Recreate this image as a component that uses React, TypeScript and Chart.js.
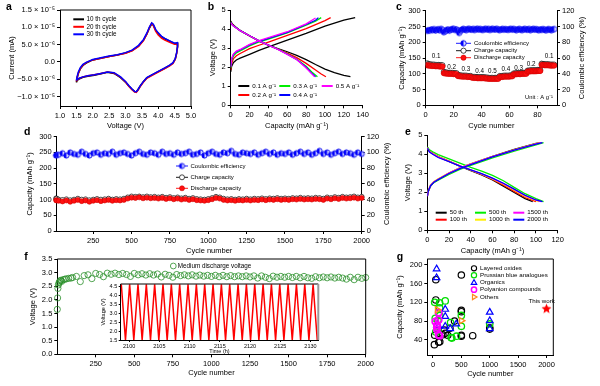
import React, { useEffect, useRef } from "react";
import { Chart, registerables } from "chart.js";
Chart.register(...registerables);

const FONT = '"Liberation Sans", Arial, Helvetica, sans-serif';
const PW = 600;
const PH = 386;

// ---------------- panel a : cyclic voltammetry ----------------
const cvVoltage = [1.50, 1.52, 1.56, 1.62, 1.70, 1.80, 2.00, 2.25, 2.50, 2.75, 3.00, 3.20, 3.40, 3.55, 3.65, 3.73, 3.80, 3.85, 3.92, 4.00, 4.10, 4.20, 4.35, 4.50, 4.58, 4.60,
  4.58, 4.56, 4.52, 4.45, 4.35, 4.20, 4.00, 3.80, 3.65, 3.55, 3.45, 3.38, 3.33, 3.28, 3.20, 3.10, 3.00, 2.85, 2.65, 2.45, 2.25, 2.05, 1.85, 1.70, 1.58, 1.52, 1.50];
// current in units of 10^-6 mA
const cv10th = [-5.9, -4.8, -3.3, -2.0, -1.0, -0.3, 0.6, 1.1, 1.6, 2.0, 2.6, 3.3, 4.6, 6.3, 8.0, 9.8, 11.0, 10.6, 9.2, 8.2, 7.3, 6.7, 6.0, 5.3, 5.4, 5.6,
  4.5, 2.5, 0.9, -0.3, -1.0, -1.8, -2.8, -3.8, -4.6, -5.6, -6.9, -8.0, -8.6, -8.5, -7.9, -6.9, -5.8, -4.5, -3.3, -3.0, -3.4, -3.8, -4.1, -4.4, -4.9, -5.4, -5.9];
const cv20th = [-5.6, -4.6, -3.2, -1.9, -0.9, -0.2, 0.6, 1.1, 1.6, 2.0, 2.5, 3.2, 4.5, 6.2, 8.0, 9.9, 11.2, 10.5, 8.9, 7.8, 6.9, 6.3, 5.7, 5.1, 5.2, 5.4,
  4.3, 2.4, 0.8, -0.4, -1.1, -1.9, -2.9, -3.9, -4.7, -5.8, -7.1, -8.2, -8.8, -8.7, -8.0, -7.0, -5.8, -4.4, -3.2, -2.9, -3.3, -3.7, -4.0, -4.3, -4.8, -5.2, -5.6];
const cv30th = [-5.4, -4.3, -2.9, -1.6, -0.7, -0.1, 0.7, 1.2, 1.7, 2.1, 2.7, 3.4, 4.8, 6.5, 8.3, 10.1, 11.3, 10.9, 9.4, 8.4, 7.4, 6.8, 6.1, 5.4, 5.6, 5.8,
  4.6, 2.6, 1.0, -0.2, -0.9, -1.7, -2.7, -3.7, -4.5, -5.6, -6.9, -8.0, -8.6, -8.5, -7.8, -6.8, -5.6, -4.3, -3.1, -2.9, -3.3, -3.7, -4.0, -4.3, -4.7, -5.1, -5.4];
const cvLabels = ["10 th cycle", "20 th cycle", "30 th cycle"];
const cvXTicks = [1, 1.5, 2, 2.5, 3, 3.5, 4, 4.5, 5];
const cvYTicks = [-10, -5, 0, 5, 10, 15];

// ---------------- panel b : rate charge/discharge ----------------
const bLabels = ["0.1 A g⁻¹", "0.2 A g⁻¹", "0.3 A g⁻¹", "0.4 A g⁻¹", "0.5 A g⁻¹"];
const b01ChargeQ = [0, 1, 3, 6, 10, 20, 30, 40, 60, 80, 100, 120, 132];
const b01ChargeV = [1.75, 2.05, 2.25, 2.38, 2.47, 2.67, 2.88, 3.06, 3.42, 3.77, 4.15, 4.47, 4.6];
const b01DisQ = [0, 2, 5, 10, 20, 30, 40, 50, 60, 70, 80, 90, 100, 110, 120, 127];
const b01DisV = [4.42, 4.25, 4.12, 3.93, 3.64, 3.38, 3.16, 2.98, 2.81, 2.62, 2.40, 2.14, 1.90, 1.71, 1.57, 1.5];
const b02ChargeQ = [0, 1, 3, 6, 10, 20, 30, 40, 60, 80, 100, 106];
const b02ChargeV = [1.85, 2.2, 2.45, 2.6, 2.72, 2.97, 3.15, 3.32, 3.67, 4.02, 4.44, 4.6];
const b02DisQ = [0, 2, 5, 10, 20, 30, 40, 50, 60, 70, 80, 90, 96, 101];
const b02DisV = [4.38, 4.22, 4.1, 3.92, 3.64, 3.38, 3.15, 2.95, 2.74, 2.5, 2.2, 1.85, 1.64, 1.5];
const b03ChargeQ = [0, 1, 3, 6, 10, 20, 30, 40, 60, 80, 90, 96];
const b03ChargeV = [1.95, 2.35, 2.6, 2.75, 2.85, 3.12, 3.32, 3.47, 3.8, 4.2, 4.42, 4.6];
const b03DisQ = [0, 2, 5, 10, 20, 30, 40, 50, 60, 70, 80, 86, 92];
const b03DisV = [4.36, 4.2, 4.09, 3.92, 3.65, 3.38, 3.16, 2.95, 2.7, 2.42, 2.05, 1.75, 1.5];
const b04ChargeQ = [0, 1, 3, 6, 10, 20, 30, 40, 60, 80, 90, 93];
const b04ChargeV = [2.0, 2.42, 2.68, 2.82, 2.9, 3.17, 3.36, 3.51, 3.83, 4.24, 4.46, 4.6];
const b04DisQ = [0, 2, 5, 10, 20, 30, 40, 50, 60, 70, 80, 85, 90];
const b04DisV = [4.35, 4.2, 4.09, 3.92, 3.65, 3.38, 3.16, 2.94, 2.68, 2.4, 2.0, 1.72, 1.5];
const b05ChargeQ = [0, 1, 3, 6, 10, 20, 30, 40, 60, 80, 90];
const b05ChargeV = [2.03, 2.45, 2.7, 2.84, 2.93, 3.2, 3.39, 3.55, 3.86, 4.27, 4.58];
const b05DisQ = [0, 2, 5, 10, 20, 30, 40, 50, 60, 70, 80, 85, 89];
const b05DisV = [4.34, 4.2, 4.08, 3.92, 3.65, 3.38, 3.16, 2.93, 2.67, 2.4, 1.96, 1.7, 1.5];
const bXTicks = [0, 20, 40, 60, 80, 100, 120, 140];
const vTicks = [0, 1, 2, 3, 4, 5];

// ---------------- panel c : rate capability ----------------
const cDischarge = [127, 126, 126, 125, 125, 125, 124, 124, 124, 123, 123, 123,
  102, 101, 101, 100, 100, 100, 100, 99, 99, 99,
  93, 92, 92, 91, 91, 91, 91, 90, 90, 90,
  88, 87, 87, 87, 86, 86, 86, 86, 86, 86,
  85, 85, 84, 84, 84, 84, 84, 84, 84, 84,
  90, 90, 90, 91, 91, 91, 91, 91, 92, 92,
  98, 98, 99, 99, 99, 99, 100, 100, 100, 100,
  107, 107, 108, 108, 108, 108, 108, 109, 109, 109,
  128, 128, 127, 127, 127, 127, 126, 126, 126, 126];
const cCharge = [133, 131, 130, 129, 129, 129, 128, 128, 128, 127, 127, 127,
  106, 104, 104, 103, 103, 103, 103, 102, 102, 102,
  96, 95, 95, 94, 94, 94, 94, 93, 93, 93,
  91, 90, 90, 90, 89, 89, 89, 89, 89, 89,
  88, 88, 87, 87, 87, 87, 87, 87, 87, 87,
  93, 93, 93, 94, 94, 94, 94, 94, 95, 95,
  101, 101, 102, 102, 102, 102, 103, 103, 103, 103,
  110, 110, 111, 111, 111, 111, 111, 112, 112, 112,
  132, 131, 130, 130, 130, 130, 129, 129, 129, 129];
const cCE = [94.5, 95.2, 94.8, 96.2, 95.4, 96.6, 95.0, 95.8, 96.4, 95.2, 96.8, 95.6,
  92.8, 94.0, 95.4, 96.2, 94.8, 96.0, 96.6, 97.0, 95.6, 96.3,
  95.2, 91.8, 94.6, 96.0, 96.8, 96.2, 95.4, 96.5, 97.0, 96.3,
  96.0, 96.8, 95.6, 96.5, 97.0, 96.2, 96.8, 96.0, 95.7, 96.5,
  97.0, 96.2, 96.8, 95.6, 96.5, 97.0, 96.2, 96.4, 97.0, 96.0,
  95.5, 96.2, 96.8, 96.0, 96.6, 96.2, 95.8, 96.4, 96.9, 96.1,
  96.8, 96.0, 95.4, 96.2, 96.8, 96.0, 95.5, 96.3, 96.9, 96.1,
  96.0, 96.8, 95.4, 96.2, 96.9, 96.1, 96.6, 96.0, 95.3, 96.2,
  95.8, 96.6, 96.0, 95.2, 95.9, 96.6, 96.0, 95.4, 96.1, 96.7];
const cRateText = ["0.1", "0.2", "0.3", "0.4", "0.5", "0.4", "0.3", "0.2", "0.1"];
const cRateCycle = [7.5, 18.5, 28.7, 38.6, 47.7, 57.4, 66.6, 75.4, 88.4];
const cRateCap = [154, 122, 114, 108, 108, 114, 119, 131, 154];
const cXTicks = [0, 20, 40, 60, 80];
const capTicks = [0, 50, 100, 150, 200, 250, 300];
const ceTicks = [0, 20, 40, 60, 80, 100, 120];

// ---------------- panel d : long cycling ----------------
const dCycles = [1, 2, 3, 5, 8, 12,
  25, 50, 75, 100, 125, 150, 175, 200, 225, 250, 275, 300, 325, 350, 375, 400, 425, 450, 475, 500,
  525, 550, 575, 600, 625, 650, 675, 700, 725, 750, 775, 800, 825, 850, 875, 900, 925, 950, 975, 1000,
  1025, 1050, 1075, 1100, 1125, 1150, 1175, 1200, 1225, 1250, 1275, 1300, 1325, 1350, 1375, 1400, 1425, 1450, 1475, 1500,
  1525, 1550, 1575, 1600, 1625, 1650, 1675, 1700, 1725, 1750, 1775, 1800, 1825, 1850, 1875, 1900, 1925, 1950, 1975, 2000];
const dDischarge = [112, 108, 104, 100, 98, 97,
  96, 94, 97, 93, 96, 99, 95, 97, 93, 96, 98, 95, 97, 99, 96, 98, 97, 99, 103, 106,
  105, 107, 104, 106, 104, 105, 103, 105, 102, 104, 101, 103, 100, 102, 99, 101, 98, 97, 96, 98,
  101, 105, 103, 99, 97, 98, 96, 98, 97, 99, 97, 99, 98, 100, 98, 100, 99, 101, 99, 100,
  99, 101, 100, 102, 100, 101, 100, 102, 101, 99, 103, 101, 104, 102, 105, 103, 104, 106, 103, 105];
const dCharge = [143, 118, 110, 106, 104, 103,
  100, 99, 101, 98, 100, 103, 100, 101, 98, 100, 102, 100, 101, 103, 100, 102, 101, 103, 107, 110,
  109, 110, 108, 110, 108, 109, 107, 109, 106, 108, 105, 107, 104, 106, 103, 105, 102, 101, 100, 102,
  105, 109, 107, 103, 101, 102, 100, 102, 101, 103, 101, 103, 102, 104, 102, 104, 103, 105, 103, 104,
  103, 105, 104, 106, 104, 105, 104, 106, 105, 103, 107, 105, 108, 106, 109, 107, 108, 110, 107, 109];
const dCE = [71, 89, 94, 95, 96, 97,
  97, 99, 96, 100, 98, 97, 101, 98, 96, 99, 100, 97, 99, 98, 101, 97, 99, 100, 98, 96,
  99, 101, 98, 97, 100, 99, 97, 101, 98, 99, 97, 100, 98, 99, 101, 97, 98, 100, 96, 99,
  101, 98, 97, 100, 99, 102, 98, 97, 100, 99, 98, 100, 97, 99, 101, 98, 100, 97, 99, 98,
  100, 97, 99, 101, 98, 100, 97, 99, 102, 98, 100, 97, 99, 101, 98, 100, 99, 97, 100, 98];
const longXTicks = [250, 500, 750, 1000, 1250, 1500, 1750, 2000];

// ---------------- panel e : selected cycles ----------------
const eLabels = ["50 th", "100 th", "500 th", "1000 th", "1500 th", "2000 th"];
const e50ChargeQ = [0, 1, 3, 6, 10, 20, 30, 40, 60, 80, 100, 104];
const e50ChargeV = [1.75, 2.05, 2.32, 2.52, 2.67, 3.0, 3.27, 3.48, 3.88, 4.24, 4.56, 4.6];
const e100ChargeQ = [0, 1, 3, 6, 10, 20, 30, 40, 60, 80, 100, 105];
const e100ChargeV = [1.78, 2.08, 2.34, 2.53, 2.67, 2.99, 3.25, 3.46, 3.86, 4.22, 4.54, 4.6];
const e500ChargeQ = [0, 1, 3, 6, 10, 20, 30, 40, 60, 80, 100, 107];
const e500ChargeV = [1.85, 2.1, 2.33, 2.5, 2.63, 2.93, 3.19, 3.4, 3.8, 4.15, 4.48, 4.6];
const e1000ChargeQ = [0, 1, 3, 6, 10, 20, 30, 40, 60, 80, 100, 104];
const e1000ChargeV = [1.8, 2.12, 2.38, 2.56, 2.7, 3.02, 3.27, 3.48, 3.87, 4.22, 4.55, 4.6];
const e1500ChargeQ = [0, 1, 3, 6, 10, 20, 30, 40, 60, 80, 100, 105];
const e1500ChargeV = [1.8, 2.1, 2.36, 2.54, 2.68, 3.0, 3.26, 3.47, 3.86, 4.21, 4.53, 4.6];
const e2000ChargeQ = [0, 1, 3, 6, 10, 20, 30, 40, 60, 80, 100, 106];
const e2000ChargeV = [1.78, 2.08, 2.34, 2.52, 2.66, 2.98, 3.24, 3.45, 3.85, 4.2, 4.52, 4.6];
const e50DisQ = [0, 2, 5, 10, 20, 30, 40, 50, 60, 70, 80, 90, 97];
const e50DisV = [4.35, 4.15, 4.03, 3.86, 3.62, 3.37, 3.13, 2.91, 2.64, 2.32, 1.98, 1.66, 1.5];
const e100DisQ = [0, 2, 5, 10, 20, 30, 40, 50, 60, 70, 80, 90, 100];
const e100DisV = [4.35, 4.15, 4.04, 3.87, 3.63, 3.38, 3.15, 2.93, 2.67, 2.37, 2.04, 1.72, 1.5];
const e500DisQ = [0, 2, 5, 10, 20, 30, 40, 50, 60, 70, 80, 90, 100, 107];
const e500DisV = [4.38, 4.22, 4.12, 3.97, 3.75, 3.52, 3.3, 3.1, 2.88, 2.6, 2.25, 1.92, 1.66, 1.5];
const e1000DisQ = [0, 2, 5, 10, 20, 30, 40, 50, 60, 70, 80, 90, 100, 103];
const e1000DisV = [4.33, 4.13, 4.02, 3.85, 3.62, 3.38, 3.16, 2.95, 2.7, 2.42, 2.1, 1.78, 1.56, 1.5];
const e1500DisQ = [0, 2, 5, 10, 20, 30, 40, 50, 60, 70, 80, 90, 100, 105];
const e1500DisV = [4.33, 4.12, 4.01, 3.84, 3.61, 3.38, 3.17, 2.96, 2.72, 2.45, 2.14, 1.82, 1.58, 1.5];
const e2000DisQ = [0, 2, 5, 10, 20, 30, 40, 50, 60, 70, 80, 90, 100, 106];
const e2000DisV = [4.32, 4.1, 3.99, 3.82, 3.6, 3.37, 3.17, 2.97, 2.74, 2.47, 2.16, 1.84, 1.59, 1.5];
const eXTicks = [0, 20, 40, 60, 80, 100, 120];

// ---------------- panel f : medium discharge voltage ----------------
const fCycles = [1, 3, 5, 8, 12, 15, 20, 25, 30, 40, 50, 60, 75, 90, 100,
  125, 150, 175, 200, 225, 250, 275, 300, 325, 350, 375, 400, 425, 450, 475, 500,
  525, 550, 575, 600, 625, 650, 675, 700, 725, 750, 775, 800, 825, 850, 875, 900, 925, 950, 975, 1000,
  1025, 1050, 1075, 1100, 1125, 1150, 1175, 1200, 1225, 1250, 1275, 1300, 1325, 1350, 1375, 1400, 1425, 1450, 1475, 1500,
  1525, 1550, 1575, 1600, 1625, 1650, 1675, 1700, 1725, 1750, 1775, 1800, 1825, 1850, 1875, 1900, 1925, 1950, 1975, 2000];
const fVoltage = [1.65, 2.07, 2.42, 2.55, 2.62, 2.66, 2.70, 2.72, 2.68, 2.74, 2.76, 2.77, 2.79, 2.80, 2.82,
  2.86, 2.67, 2.89, 2.92, 2.78, 2.97, 2.93, 2.85, 2.98, 2.94, 2.98, 2.93, 2.97, 2.93, 2.86, 2.97,
  2.92, 2.96, 2.91, 2.96, 2.91, 2.95, 2.84, 2.94, 2.90, 2.83, 2.93, 2.89, 2.92, 2.88, 2.92, 2.87, 2.91, 2.87, 2.90, 2.86,
  2.90, 2.85, 2.90, 2.85, 2.89, 2.85, 2.88, 2.85, 2.88, 2.84, 2.88, 2.80, 2.88, 2.83, 2.78, 2.87, 2.83, 2.86, 2.83, 2.86,
  2.82, 2.86, 2.81, 2.86, 2.81, 2.79, 2.85, 2.81, 2.84, 2.81, 2.84, 2.80, 2.83, 2.80, 2.76, 2.83, 2.74, 2.83, 2.79, 2.82];
const fYTicks = [0, 0.5, 1, 1.5, 2, 2.5, 3, 3.5];

// ---------------- inset : voltage vs time ----------------
const insetTime = [2098.70, 2099.39, 2100.08, 2100.77, 2101.46, 2102.15, 2102.84, 2103.53, 2104.22, 2104.91, 2105.60, 2106.29,
  2106.98, 2107.67, 2108.36, 2109.05, 2109.74, 2110.43, 2111.12, 2111.81, 2112.50, 2113.19, 2113.88, 2114.57,
  2115.26, 2115.95, 2116.64, 2117.33, 2118.02, 2118.71, 2119.40, 2120.09, 2120.78, 2121.47, 2122.16, 2122.85,
  2123.54, 2124.23, 2124.92, 2125.61, 2126.30, 2126.99, 2127.68, 2128.37, 2129.06, 2129.75, 2130.44, 2131.13];
const insetVoltage = [4.6, 1.5, 4.6, 1.5, 4.6, 1.5, 4.6, 1.5, 4.6, 1.5, 4.6, 1.5,
  4.6, 1.5, 4.6, 1.5, 4.6, 1.5, 4.6, 1.5, 4.6, 1.5, 4.6, 1.5,
  4.6, 1.5, 4.6, 1.5, 4.6, 1.5, 4.6, 1.5, 4.6, 1.5, 4.6, 1.5,
  4.6, 1.5, 4.6, 1.5, 4.6, 1.5, 4.6, 1.5, 4.6, 1.5, 4.6, 1.5];
const insetXTicks = [2100, 2105, 2110, 2115, 2120, 2125, 2130];
const insetYTicks = [1.5, 2, 2.5, 3, 3.5, 4, 4.5];

// ---------------- panel g : comparison ----------------
const gLabels = ["Layered oxides", "Prussian blue analogues", "Organics", "Polyanion compounds", "Others"];
const layeredX = [50, 50, 500, 500, 500, 500, 500, 700, 1000, 1000, 25, 100, 120, 30, 100, 175, 200, 215, 260, 380, 300];
const layeredY = [125, 168, 178, 103, 100, 50, 48, 49, 66, 63, 30, 35, 36, 50, 54, 51, 61, 54, 50, 80, 65];
const prussianX = [30, 117, 117, 216, 40, 88, 120, 310, 320, 415, 500, 500, 1000, 88, 50, 333];
const prussianY = [120, 119, 108, 123, 86, 82, 92, 77, 45, 48, 92, 69, 74, 60, 57, 44];
const organicX = [64, 64, 216, 216, 216, 304, 410, 1000, 1000, 1000, 100, 70];
const organicY = [191, 172, 105, 90, 69, 64, 74, 99, 81, 64, 69, 72];
const polyX = [41, 70, 70, 100, 100, 100, 117, 70];
const polyY = [79, 71, 67, 98, 83, 51, 49, 62];
const othersX = [75, 500];
const othersY = [104, 81];
const thisWorkX = [2000];
const thisWorkY = [106];
const gXTicks = [0, 500, 1000, 1500, 2000];
const gYTicks = [40, 80, 120, 160, 200];

// ================= helpers =================
const pts = (xs: number[], ys: number[]) => xs.map((x, i) => ({ x, y: ys[i] }));
const fi = (v: number) => String(v);
const f1 = (v: number) => v.toFixed(1);
const cvFmt = (v: number) => {
  if (v === 0) return "0.0";
  const s = v < 0 ? "−" : "";
  const a = Math.abs(v);
  return a >= 10 ? `${s}${(a / 10).toFixed(1)} × 10⁻⁵` : `${s}${a.toFixed(1)} × 10⁻⁶`;
};

type Box = { L: number; R: number; T: number; B: number; wl: number; hb: number; wr?: number };
function pad(b: Box) {
  return { left: b.L - b.wl, top: b.T, right: PW - b.R - (b.wr || 0), bottom: PH - b.B - b.hb };
}

function ax(position: string, min: number, max: number, ticks: number[], fit: number, title: string | null, fmt: (v: number) => string, small = false) {
  const horizontal = position === "bottom" || position === "top";
  const ts = small ? 5.5 : 7.5;
  return {
    type: "linear",
    position,
    min,
    max,
    afterBuildTicks: (s: any) => { s.ticks = ticks.map((v) => ({ value: v })); },
    afterFit: (s: any) => { if (horizontal) s.height = fit; else s.width = fit; },
    border: { display: true, color: "#000", width: 1 },
    grid: { display: true, drawOnChartArea: false, drawTicks: true, tickLength: small ? 2 : 3, color: "#000", lineWidth: 1 },
    ticks: { autoSkip: false, maxRotation: 0, minRotation: 0, padding: small ? 1.5 : 2, color: "#000", font: { family: FONT, size: ts }, callback: (v: any) => fmt(Number(v)) },
    title: { display: !!title, text: title || "", color: "#000", font: { family: FONT, size: ts }, padding: 0 },
  };
}

function base(box: Box, scales: any) {
  return {
    responsive: false,
    maintainAspectRatio: false,
    animation: false,
    events: [],
    layout: { padding: pad(box) },
    plugins: { legend: { display: false }, tooltip: { enabled: false } },
    scales,
  };
}

function decor(fn: (ctx: CanvasRenderingContext2D, ch: any) => void) {
  return { id: "decor", afterDraw(ch: any) { const ctx = ch.ctx; ctx.save(); fn(ctx, ch); ctx.restore(); } };
}

function T(ctx: CanvasRenderingContext2D, s: string, x: number, y: number, size: number, opt: any = {}) {
  ctx.save();
  ctx.font = `${opt.bold ? "bold " : ""}${size}px ${FONT}`;
  ctx.fillStyle = opt.color || "#000";
  ctx.textAlign = opt.align || "left";
  ctx.textBaseline = "middle";
  ctx.translate(x, y);
  if (opt.rot) ctx.rotate(opt.rot);
  ctx.fillText(s, 0, 0);
  ctx.restore();
}
function hline(ctx: CanvasRenderingContext2D, x1: number, x2: number, y: number, color: string, lw: number) {
  ctx.beginPath(); ctx.moveTo(x1, y); ctx.lineTo(x2, y); ctx.strokeStyle = color; ctx.lineWidth = lw; ctx.stroke();
}
function circ(ctx: CanvasRenderingContext2D, x: number, y: number, r: number, stroke: string | null, fill: string | null, lw = 1) {
  ctx.beginPath(); ctx.arc(x, y, r, 0, Math.PI * 2);
  if (fill) { ctx.fillStyle = fill; ctx.fill(); }
  if (stroke) { ctx.strokeStyle = stroke; ctx.lineWidth = lw; ctx.stroke(); }
}
function tri(ctx: CanvasRenderingContext2D, x: number, y: number, r: number, stroke: string, lw: number, rot = 0) {
  ctx.beginPath();
  for (let k = 0; k < 3; k++) {
    const a = rot - Math.PI / 2 + (k * 2 * Math.PI) / 3;
    const px = x + r * Math.cos(a), py = y + r * Math.sin(a);
    if (k === 0) ctx.moveTo(px, py); else ctx.lineTo(px, py);
  }
  ctx.closePath(); ctx.strokeStyle = stroke; ctx.lineWidth = lw; ctx.stroke();
}
function frame(ctx: CanvasRenderingContext2D, ch: any, rightColor = "#000", rightW = 1) {
  const a = ch.chartArea;
  ctx.beginPath(); ctx.moveTo(a.left, a.top); ctx.lineTo(a.right, a.top);
  ctx.strokeStyle = "#000"; ctx.lineWidth = 1; ctx.stroke();
  ctx.beginPath(); ctx.moveTo(a.right, a.top); ctx.lineTo(a.right, a.bottom);
  ctx.strokeStyle = rightColor; ctx.lineWidth = rightW; ctx.stroke();
}
function letter(ctx: CanvasRenderingContext2D, s: string, x: number, y: number) {
  T(ctx, s, x, y, 10.5, { bold: true, align: "center" });
}
function halfImg(r: number) {
  const c = document.createElement("canvas");
  const s = Math.ceil(2 * r + 3);
  c.width = s; c.height = s;
  const g = c.getContext("2d")!;
  const m = s / 2;
  g.beginPath(); g.arc(m, m, r, 0, Math.PI * 2); g.fillStyle = "#d8dcff"; g.fill();
  g.beginPath(); g.moveTo(m, m - r); g.arc(m, m, r, -Math.PI / 2, Math.PI / 2, true); g.closePath(); g.fillStyle = "#0000ff"; g.fill();
  g.beginPath(); g.arc(m, m, r, 0, Math.PI * 2); g.strokeStyle = "#0000ee"; g.lineWidth = 0.9; g.stroke();
  return c;
}
function starImg(r: number, color: string) {
  const c = document.createElement("canvas");
  const s = Math.ceil(2 * r + 2);
  c.width = s; c.height = s;
  const g = c.getContext("2d")!;
  const m = s / 2;
  g.beginPath();
  for (let k = 0; k < 10; k++) {
    const a = -Math.PI / 2 + (k * Math.PI) / 5;
    const rr = k % 2 === 0 ? r : r * 0.45;
    g.lineTo(m + rr * Math.cos(a), m + rr * Math.sin(a));
  }
  g.closePath(); g.fillStyle = color; g.fill();
  return c;
}

const curve = (data: any, color: string, w = 1.3) => ({ data, borderColor: color, backgroundColor: color, showLine: true, pointRadius: 0, borderWidth: w, fill: false });

// ================= panel configs =================
function makeA() {
  const box: Box = { L: 60, R: 191, T: 10, B: 106, wl: 52.5, hb: 24.5 };
  const colors = ["#000000", "#ff0000", "#0000ff"];
  return {
    type: "scatter",
    data: { datasets: [curve(pts(cvVoltage, cv30th), "#0000ff", 1.5), curve(pts(cvVoltage, cv20th), "#ff0000", 1.5), curve(pts(cvVoltage, cv10th), "#000000", 1.5)] },
    options: base(box, {
      x: ax("bottom", 1, 5, cvXTicks, box.hb, "Voltage (V)", f1),
      y: ax("left", -12.7, 15, cvYTicks, box.wl, "Current (mA)", cvFmt),
    }),
    plugins: [decor((ctx, ch) => {
      frame(ctx, ch);
      letter(ctx, "a", 9, 7);
      cvLabels.forEach((s, i) => { const y = 19.3 + i * 7.5; hline(ctx, 73.3, 84, y, colors[i], 2); T(ctx, s, 86.5, y, 6.3); });
    })],
  };
}

function makeB() {
  const box: Box = { L: 230.7, R: 362.7, T: 10, B: 105.3, wl: 22.5, hb: 24.9 };
  const cols = ["#000000", "#ff0000", "#00ee00", "#0000ff", "#ff00ff"];
  return {
    type: "scatter",
    data: {
      datasets: [
        curve(pts(b05ChargeQ, b05ChargeV), cols[4]), curve(pts(b05DisQ, b05DisV), cols[4]),
        curve(pts(b04ChargeQ, b04ChargeV), cols[3]), curve(pts(b04DisQ, b04DisV), cols[3]),
        curve(pts(b03ChargeQ, b03ChargeV), cols[2]), curve(pts(b03DisQ, b03DisV), cols[2]),
        curve(pts(b02ChargeQ, b02ChargeV), cols[1]), curve(pts(b02DisQ, b02DisV), cols[1]),
        curve(pts(b01ChargeQ, b01ChargeV), cols[0]), curve(pts(b01DisQ, b01DisV), cols[0]),
      ],
    },
    options: base(box, {
      x: ax("bottom", 0, 140, bXTicks, box.hb, "Capacity (mAh g⁻¹)", fi),
      y: ax("left", 0, 5, vTicks, box.wl, "Voltage (V)", fi),
    }),
    plugins: [decor((ctx) => {
      letter(ctx, "b", 211, 7);
      const items = [
        { i: 0, x: 238.3, y: 86 }, { i: 2, x: 279.3, y: 86 }, { i: 4, x: 321.7, y: 86 },
        { i: 1, x: 238.3, y: 95 }, { i: 3, x: 279.3, y: 95 },
      ];
      items.forEach((it) => { hline(ctx, it.x, it.x + 11, it.y, cols[it.i], 2); T(ctx, bLabels[it.i], it.x + 14, it.y, 6.2); });
    })],
  };
}

function makeC() {
  const box: Box = { L: 425.7, R: 557, T: 10.7, B: 105.3, wl: 28.2, hb: 24.9, wr: 29.8 };
  const half = halfImg(2.7);
  const byIdx = (ys: number[]) => ys.map((y, i) => ({ x: i + 1, y }));
  return {
    type: "scatter",
    data: {
      datasets: [
        { data: byIdx(cDischarge), yAxisID: "y", showLine: true, borderColor: "#ff0000", borderWidth: 1, pointRadius: 2.7, pointBackgroundColor: "#ff1010", pointBorderColor: "#d00000", pointBorderWidth: 0.6 },
        { data: byIdx(cCharge), yAxisID: "y", showLine: true, borderColor: "#000", borderWidth: 0.8, pointRadius: 2.6, pointBackgroundColor: "#ffffff", pointBorderColor: "#000", pointBorderWidth: 0.7 },
        { data: byIdx(cCE), yAxisID: "y2", showLine: true, borderColor: "#0000ff", borderWidth: 0.8, pointRadius: 2.7, pointStyle: half },
      ],
    },
    options: base(box, {
      x: ax("bottom", 0, 94, cXTicks, box.hb, "Cycle number", fi),
      y: ax("left", 0, 300, capTicks, box.wl, "Capacity (mAh g⁻¹)", fi),
      y2: ax("right", 0, 120, ceTicks, box.wr!, null, fi),
    }),
    plugins: [decor((ctx, ch) => {
      const a = ch.chartArea;
      letter(ctx, "c", 399, 7);
      T(ctx, "Coulombic efficiency (%)", 582.3, (a.top + a.bottom) / 2, 7.5, { align: "center", rot: -Math.PI / 2 });
      const rows = [43.3, 50.7, 57.7];
      hline(ctx, 456, 471, rows[0], "#0000ff", 0.9); ctx.drawImage(half, 463.5 - half.width / 2, rows[0] - half.height / 2);
      hline(ctx, 456, 471, rows[1], "#000", 0.9); circ(ctx, 463.5, rows[1], 2.6, "#000", "#fff", 0.7);
      hline(ctx, 456, 471, rows[2], "#ff0000", 0.9); circ(ctx, 463.5, rows[2], 2.6, "#d00000", "#ff1010", 0.6);
      T(ctx, "Coulombic efficiency", 474, rows[0], 6);
      T(ctx, "Charge capacity", 474, rows[1], 6);
      T(ctx, "Discharge capacity", 474, rows[2], 6);
      const xs = ch.scales.x, ys = ch.scales.y;
      cRateText.forEach((s, i) => T(ctx, s, xs.getPixelForValue(cRateCycle[i]), ys.getPixelForValue(cRateCap[i]), 6.3, { align: "center" }));
      T(ctx, "Unit : A g⁻¹", 539, 97.3, 5.8, { align: "center" });
    })],
  };
}

function makeD() {
  const box: Box = { L: 56.7, R: 361.7, T: 136.7, B: 231, wl: 31.2, hb: 24.2, wr: 30.1 };
  const half = halfImg(2.6);
  return {
    type: "scatter",
    data: {
      datasets: [
        { data: pts(dCycles, dDischarge), yAxisID: "y", clip: false, showLine: true, borderColor: "#ff0000", borderWidth: 0.8, pointRadius: 2.5, pointBackgroundColor: "#ff1010", pointBorderColor: "#d00000", pointBorderWidth: 0.6 },
        { data: pts(dCycles, dCharge), yAxisID: "y", clip: false, showLine: true, borderColor: "#000", borderWidth: 0.7, pointRadius: 2.4, pointBackgroundColor: "#ffffff", pointBorderColor: "#000", pointBorderWidth: 0.7 },
        { data: pts(dCycles, dCE), yAxisID: "y2", clip: false, showLine: true, borderColor: "#0000ff", borderWidth: 0.7, pointRadius: 2.6, pointStyle: half },
      ],
    },
    options: base(box, {
      x: ax("bottom", 12, 2000, longXTicks, box.hb, "Cycle number", fi),
      y: ax("left", 0, 300, capTicks, box.wl, "Capacity (mAh g⁻¹)", fi),
      y2: ax("right", 0, 120, ceTicks, box.wr!, null, fi),
    }),
    plugins: [decor((ctx, ch) => {
      const a = ch.chartArea;
      letter(ctx, "d", 27.3, 131.7);
      T(ctx, "Coulombic efficiency (%)", 387.3, (a.top + a.bottom) / 2, 7.5, { align: "center", rot: -Math.PI / 2 });
      const rows = [166, 177.3, 188.3];
      hline(ctx, 176, 188, rows[0], "#0000ff", 0.9); ctx.drawImage(half, 182 - half.width / 2, rows[0] - half.height / 2);
      hline(ctx, 176, 188, rows[1], "#000", 0.9); circ(ctx, 182, rows[1], 2.5, "#000", "#fff", 0.7);
      hline(ctx, 176, 188, rows[2], "#ff0000", 0.9); circ(ctx, 182, rows[2], 2.5, "#d00000", "#ff1010", 0.6);
      T(ctx, "Coulombic efficiency", 190.5, rows[0], 6);
      T(ctx, "Charge capacity", 190.5, rows[1], 6);
      T(ctx, "Discharge capacity", 190.5, rows[2], 6);
    })],
  };
}

function makeE() {
  const box: Box = { L: 427.3, R: 557.7, T: 135, B: 230.3, wl: 23.5, hb: 25.2 };
  const cols = ["#000000", "#ff0000", "#00ee00", "#ffee00", "#ff00ff", "#0000ff"];
  return {
    type: "scatter",
    data: {
      datasets: [
        curve(pts(e2000ChargeQ, e2000ChargeV), cols[5]), curve(pts(e2000DisQ, e2000DisV), cols[5]),
        curve(pts(e1500ChargeQ, e1500ChargeV), cols[4]), curve(pts(e1500DisQ, e1500DisV), cols[4]),
        curve(pts(e1000ChargeQ, e1000ChargeV), cols[3]), curve(pts(e1000DisQ, e1000DisV), cols[3]),
        curve(pts(e500ChargeQ, e500ChargeV), cols[2]), curve(pts(e500DisQ, e500DisV), cols[2]),
        curve(pts(e100ChargeQ, e100ChargeV), cols[1]), curve(pts(e100DisQ, e100DisV), cols[1]),
        curve(pts(e50ChargeQ, e50ChargeV), cols[0]), curve(pts(e50DisQ, e50DisV), cols[0]),
      ],
    },
    options: base(box, {
      x: ax("bottom", 0, 120, eXTicks, box.hb, "Capacity (mAh g⁻¹)", fi),
      y: ax("left", 0, 5, vTicks, box.wl, "Voltage (V)", fi),
    }),
    plugins: [decor((ctx) => {
      letter(ctx, "e", 407.8, 132);
      const items = [
        { i: 0, x: 435.7, y: 212.7 }, { i: 2, x: 475, y: 212.7 }, { i: 4, x: 513.3, y: 212.7 },
        { i: 1, x: 435.7, y: 219.7 }, { i: 3, x: 475, y: 219.7 }, { i: 5, x: 513.3, y: 219.7 },
      ];
      items.forEach((it) => { hline(ctx, it.x, it.x + 11, it.y, cols[it.i], 2); T(ctx, eLabels[it.i], it.x + 14, it.y, 6.2); });
    })],
  };
}

function makeF() {
  const box: Box = { L: 57.3, R: 365.7, T: 259, B: 354.3, wl: 28.5, hb: 23.5 };
  const green = "#2a8f2a";
  return {
    type: "scatter",
    data: { datasets: [{ data: pts(fCycles, fVoltage), clip: false, showLine: false, pointRadius: 3.1, pointBackgroundColor: "rgba(0,0,0,0)", pointBorderColor: green, pointBorderWidth: 0.8 }] },
    options: base(box, {
      x: ax("bottom", 1, 2000, longXTicks, box.hb, "Cycle number", fi),
      y: ax("left", 0, 3.5, fYTicks, box.wl, "Voltage (V)", f1),
    }),
    plugins: [decor((ctx, ch) => {
      frame(ctx, ch);
      letter(ctx, "f", 26, 257);
      circ(ctx, 173.3, 266, 2.9, green, null, 0.8);
      T(ctx, "Medium discharge voltage", 177.8, 266, 6.3);
    })],
  };
}

function makeInset() {
  const box: Box = { L: 120.7, R: 318.3, T: 284, B: 340, wl: 21, hb: 14.3 };
  return {
    type: "scatter",
    data: { datasets: [curve(pts(insetTime, insetVoltage), "#ff0000", 1.5)] },
    options: base(box, {
      x: ax("bottom", 2098.6, 2131.3, insetXTicks, box.hb, "Time (h)", fi, true),
      y: ax("left", 1.5, 4.62, insetYTicks, box.wl, "Voltage (V)", f1, true),
    }),
    plugins: [
      { id: "bg", beforeDraw(ch: any) { const a = ch.chartArea; const c = ch.ctx; c.save(); c.fillStyle = "#fff"; c.fillRect(a.left, a.top, a.right - a.left, a.bottom - a.top); c.restore(); } },
      decor((ctx, ch) => { frame(ctx, ch, "#999", 2); }),
    ],
  };
}

function makeG() {
  const box: Box = { L: 427.3, R: 553.3, T: 259, B: 355, wl: 31.8, hb: 23 };
  const star = starImg(5.2, "#ff0000");
  const open = (color: string) => ({ pointBackgroundColor: "rgba(0,0,0,0)", pointBorderColor: color, showLine: false });
  return {
    type: "scatter",
    data: {
      datasets: [
        { data: pts(thisWorkX, thisWorkY), pointStyle: star, pointRadius: 5, showLine: false },
        { data: pts(othersX, othersY), ...open("#ff8a1a"), pointStyle: "triangle", pointRotation: 90, pointRadius: 3.6, pointBorderWidth: 1.3 },
        { data: pts(polyX, polyY), ...open("#ff00ff"), pointStyle: "circle", pointRadius: 3.2, pointBorderWidth: 1.6 },
        { data: pts(organicX, organicY), ...open("#0000ff"), pointStyle: "triangle", pointRadius: 3.8, pointBorderWidth: 1.2 },
        { data: pts(prussianX, prussianY), ...open("#00dd00"), pointStyle: "circle", pointRadius: 3.2, pointBorderWidth: 1.3 },
        { data: pts(layeredX, layeredY), ...open("#000000"), pointStyle: "circle", pointRadius: 3.2, pointBorderWidth: 1.2 },
      ],
    },
    options: base(box, {
      x: ax("bottom", -100, 2120, gXTicks, box.hb, "Cycle number", fi),
      y: ax("left", 8, 212, gYTicks, box.wl, "Capacity (mAh g⁻¹)", fi),
    }),
    plugins: [decor((ctx, ch) => {
      frame(ctx, ch);
      letter(ctx, "g", 400, 257);
      const rows = [268.3, 275.3, 282.3, 289.7, 297];
      const mx = 474;
      circ(ctx, mx, rows[0], 2.6, "#000", null, 1.1);
      circ(ctx, mx, rows[1], 2.6, "#00dd00", null, 1.2);
      tri(ctx, mx, rows[2] + 0.5, 3.2, "#0000ff", 1.1);
      circ(ctx, mx, rows[3], 2.6, "#ff00ff", null, 1.5);
      tri(ctx, mx, rows[4], 3.0, "#ff8a1a", 1.2, Math.PI / 2);
      gLabels.forEach((s, i) => T(ctx, s, 480, rows[i], 6.2));
      T(ctx, "This work", 541.7, 301.7, 6.2, { align: "center" });
    })],
  };
}

function Panel({ make }: { make: () => any }) {
  const ref = useRef<HTMLCanvasElement | null>(null);
  useEffect(() => {
    if (!ref.current) return;
    const ch = new Chart(ref.current, make());
    return () => ch.destroy();
  }, [make]);
  return <canvas ref={ref} width={PW} height={PH} style={{ position: "absolute", left: 0, top: 0, width: PW, height: PH }} />;
}

export default function App() {
  return (
    <div style={{ position: "fixed", left: 0, top: 0, width: PW, height: PH, background: "#fff", overflow: "hidden" }}>
      <Panel make={makeA} />
      <Panel make={makeB} />
      <Panel make={makeC} />
      <Panel make={makeD} />
      <Panel make={makeE} />
      <Panel make={makeF} />
      <Panel make={makeInset} />
      <Panel make={makeG} />
    </div>
  );
}
